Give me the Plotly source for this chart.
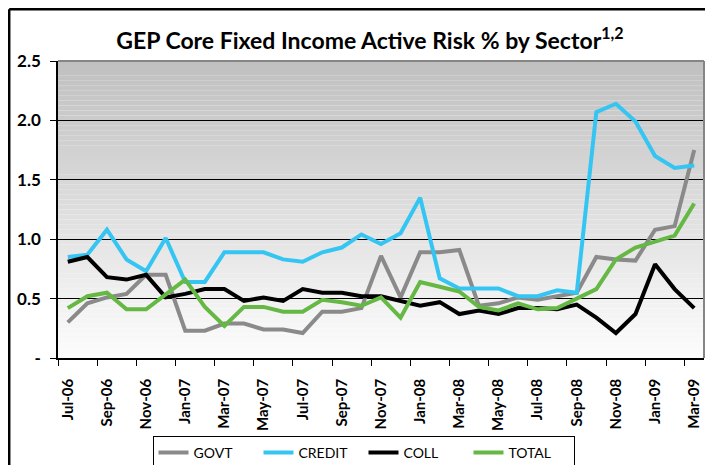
import plotly.graph_objects as go

months = ["Jul-06","Aug-06","Sep-06","Oct-06","Nov-06","Dec-06","Jan-07","Feb-07","Mar-07","Apr-07",
          "May-07","Jun-07","Jul-07","Aug-07","Sep-07","Oct-07","Nov-07","Dec-07","Jan-08","Feb-08",
          "Mar-08","Apr-08","May-08","Jun-08","Jul-08","Aug-08","Sep-08","Oct-08","Nov-08","Dec-08",
          "Jan-09","Feb-09","Mar-09"]

govt = [0.30,0.46,0.51,0.54,0.70,0.70,0.23,0.23,0.29,0.29,0.24,0.24,0.21,0.39,0.39,0.42,
        0.86,0.51,0.89,0.89,0.91,0.44,0.46,0.51,0.49,0.52,0.55,0.85,0.83,0.82,1.08,1.11,1.75]
credit = [0.85,0.87,1.08,0.83,0.73,1.01,0.64,0.64,0.89,0.89,0.89,0.83,0.81,0.89,0.93,1.04,
          0.96,1.05,1.35,0.67,0.585,0.585,0.585,0.52,0.52,0.57,0.55,2.07,2.14,1.99,1.70,1.60,1.62]
coll = [0.81,0.85,0.68,0.66,0.70,0.51,0.54,0.58,0.58,0.48,0.51,0.48,0.58,0.55,0.55,0.52,
        0.52,0.48,0.44,0.47,0.37,0.40,0.37,0.42,0.42,0.41,0.45,0.34,0.21,0.37,0.79,0.58,0.42]
total = [0.42,0.52,0.55,0.41,0.41,0.53,0.66,0.43,0.27,0.43,0.43,0.39,0.39,0.49,0.47,0.44,
         0.51,0.34,0.64,0.60,0.56,0.43,0.40,0.46,0.41,0.42,0.50,0.58,0.83,0.93,0.98,1.03,1.30]

series = [("GOVT", govt, "#8a8a8a"), ("CREDIT", credit, "#35c5f2"),
          ("COLL", coll, "#000000"), ("TOTAL", total, "#65b844")]

ytickvals = [0, 0.5, 1.0, 1.5, 2.0, 2.5]
yticktext = ["-", "0.5", "1.0", "1.5", "2.0", "2.5"]

FONT = "Lato, sans-serif"

idx = list(range(len(months)))
fig = go.Figure()
for name, vals, col in series:
    fig.add_trace(go.Scatter(x=idx, y=vals, name=name, mode="lines",
                             line=dict(color=col, width=4)))

# page has an 8px body margin, so the figure is laid out 8px smaller
W, H = 705, 457
L, R, T, B = 50, 9, 53, 107
pw, ph = W - L - R, H - T - B

# gradient background stripes
n = 60
shapes = []
for i in range(n):
    f = i / (n - 1)
    c = int(round(0xc0 + (0xfc - 0xc0) * f))
    shapes.append(dict(type="rect", xref="x domain", yref="y domain",
                       x0=0, x1=1, y0=1 - (i + 1) / n, y1=1 - i / n,
                       fillcolor=f"rgb({c},{c},{c})", line=dict(width=0), layer="below"))
# plot border top/right (gray)
shapes.append(dict(type="line", xref="x domain", yref="y domain", x0=0, x1=1, y0=1, y1=1,
                   line=dict(color="#858585", width=2)))
shapes.append(dict(type="line", xref="x domain", yref="y domain", x0=1, x1=1, y0=0, y1=1,
                   line=dict(color="#858585", width=2)))
# outer frame (left and top)
fx = (1.2 - L) / pw
fy = (T + ph - 1.2) / ph
shapes.append(dict(type="line", xref="paper", yref="paper", x0=fx, x1=fx, y0=fy, y1=(T + ph - H - 5) / ph,
                   line=dict(color="#000000", width=2.5)))
shapes.append(dict(type="line", xref="paper", yref="paper", x0=fx, x1=(W + 5 - L) / pw, y0=fy, y1=fy,
                   line=dict(color="#000000", width=2.5)))

fig.update_layout(
    width=W, height=H,
    margin=dict(l=L, r=R, t=T, b=B, autoexpand=False),
    paper_bgcolor="white", plot_bgcolor="rgba(0,0,0,0)",
    font=dict(family=FONT, color="black"),
    title=dict(text="GEP Core Fixed Income Active Risk % by Sector<sup>1,2</sup>",
               font=dict(size=23, family=FONT, weight="bold"),
               x=362 / W, xanchor="center",
               y=1 - 33 / H, yanchor="middle", yref="container"),
    showlegend=True,
    legend=dict(orientation="h", x=(355.5 - L) / pw, xanchor="center",
                y=(T + ph - 428) / ph, yanchor="top",
                bordercolor="black", borderwidth=1, bgcolor="white",
                font=dict(size=14, family=FONT), itemwidth=30,
                entrywidth=60, entrywidthmode="pixels",
                tracegroupgap=0),
    shapes=shapes,
)
fig.update_xaxes(range=[-0.5, len(months) - 0.5], tickmode="array",
                 tickvals=idx[::2], ticktext=months[::2], tickangle=-90,
                 ticks="", showgrid=False, zeroline=False, automargin=False,
                 showline=True, linecolor="black", linewidth=1.5,
                 tickfont=dict(size=15, family=FONT, weight="bold"), ticklabelstandoff=13,
                 minor=dict(tickmode="array", tickvals=[i - 0.5 for i in idx[::2]],
                            ticks="outside", ticklen=6, tickcolor="black", tickwidth=1, showgrid=False))
fig.update_yaxes(range=[0, 2.5], tickmode="array", tickvals=ytickvals, ticktext=yticktext,
                 ticks="outside", ticklen=6, tickcolor="black", automargin=False,
                 showgrid=True, gridcolor="black", gridwidth=1, zeroline=False,
                 showline=True, linecolor="black", linewidth=1.5,
                 tickfont=dict(size=17, family=FONT, weight="bold"), ticklabelstandoff=6)

fig.write_html("out.html")
